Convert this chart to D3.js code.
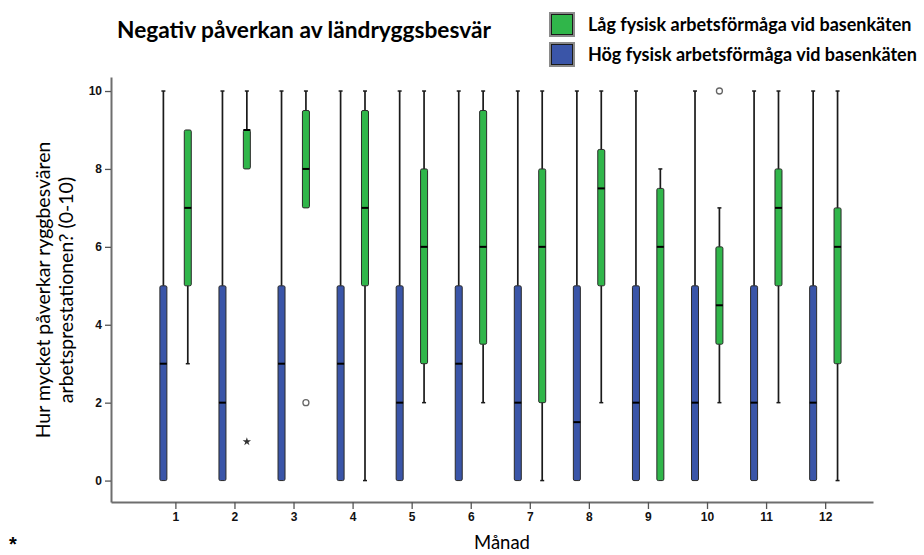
<!DOCTYPE html>
<html><head><meta charset="utf-8">
<script src="https://cdn.jsdelivr.net/npm/d3@7"></script>
<style>body{margin:0;background:#fff}svg{display:block}</style>
</head><body>
<svg id="chart" width="924" height="555"></svg>
<script>
const months = [1,2,3,4,5,6,7,8,9,10,11,12];
const yTicks = [0,2,4,6,8,10];
const seriesNames = ["Låg fysisk arbetsförmåga vid basenkäten","Hög fysisk arbetsförmåga vid basenkäten"];
// Låg (green)
const lowMin = [3,8,7,0,2,2,0,2,0,2,2,0];
const lowQ1  = [5,8,7,5,3,3.5,2,5,0,3.5,5,3];
const lowMed = [7,9,8,7,6,6,6,7.5,6,4.5,7,6];
const lowQ3  = [9,9,9.5,9.5,8,9.5,8,8.5,7.5,6,8,7];
const lowMax = [9,10,10,10,10,10,10,10,8,7,10,10];
// Hög (blue)
const highMin = [0,0,0,0,0,0,0,0,0,0,0,0];
const highQ1  = [0,0,0,0,0,0,0,0,0,0,0,0];
const highMed = [3,2,3,3,2,3,2,1.5,2,2,2,2];
const highQ3  = [5,5,5,5,5,5,5,5,5,5,5,5];
const highMax = [10,10,10,10,10,10,10,10,10,10,10,10];
// outliers (Låg group)
const lowOutlierMonths = [2,3,10];
const lowOutlierValues = [1,2,10];
const lowOutlierTypes  = ["extreme","mild","mild"];

const colors = {low:"#30b64a", high:"#3a55a8"};
const svg = d3.select("#chart");
const x = d3.scaleLinear().domain([-0.09,12.81]).range([111,873]);
const y = d3.scaleLinear().domain([-0.55,10.36]).range([502,77]);

// axes
const yAxis = svg.append("g").attr("transform","translate(111,0)")
  .call(d3.axisLeft(y).tickValues(yTicks).tickSize(6).tickSizeOuter(0).tickFormat(d3.format("d")));
const xAxis = svg.append("g").attr("transform","translate(0,502)")
  .call(d3.axisBottom(x).tickValues(months).tickSize(7).tickSizeOuter(0).tickFormat(d3.format("d")));
[yAxis,xAxis].forEach(g=>{
  g.select(".domain").attr("stroke","#6e6e6e").attr("stroke-width",2);
  g.selectAll(".tick line").attr("stroke","#555").attr("stroke-width",1.3);
  g.selectAll(".tick text").attr("fill","#111").attr("font-family","Liberation Sans, Arial, sans-serif")
    .attr("font-weight","bold").attr("font-size",12);
});
xAxis.selectAll(".tick text").attr("dy","0.75em");

function series(mins,q1s,meds,q3s,maxs,offset,color){
  const g = svg.append("g");
  const bw = 7;
  months.forEach((m,i)=>{
    const cx = x(m)+offset;
    if (maxs[i] > q3s[i]) {
      g.append("line").attr("x1",cx).attr("x2",cx).attr("y1",y(q3s[i])).attr("y2",y(maxs[i]))
        .attr("stroke","#1a1a1a").attr("stroke-width",1.7);
      g.append("line").attr("x1",cx-2).attr("x2",cx+2).attr("y1",y(maxs[i])).attr("y2",y(maxs[i]))
        .attr("stroke","#1a1a1a").attr("stroke-width",1.5);
    }
    if (mins[i] < q1s[i]) {
      g.append("line").attr("x1",cx).attr("x2",cx).attr("y1",y(q1s[i])).attr("y2",y(mins[i]))
        .attr("stroke","#1a1a1a").attr("stroke-width",1.7);
      g.append("line").attr("x1",cx-2).attr("x2",cx+2).attr("y1",y(mins[i])).attr("y2",y(mins[i]))
        .attr("stroke","#1a1a1a").attr("stroke-width",1.5);
    }
    g.append("rect").attr("x",cx-bw/2).attr("width",bw)
      .attr("y",y(q3s[i])).attr("height",y(q1s[i])-y(q3s[i]))
      .attr("rx",1.5).attr("fill",color).attr("stroke","#2a2a2a").attr("stroke-width",1);
    g.append("line").attr("x1",cx-bw/2).attr("x2",cx+bw/2).attr("y1",y(meds[i])).attr("y2",y(meds[i]))
      .attr("stroke","#000").attr("stroke-width",2);
  });
}
series(highMin,highQ1,highMed,highQ3,highMax,-12,colors.high);
series(lowMin,lowQ1,lowMed,lowQ3,lowMax,12.4,colors.low);

// outliers
lowOutlierMonths.forEach((m,i)=>{
  const cx = x(m)+12.4, cy = y(lowOutlierValues[i]);
  if (lowOutlierTypes[i]==="mild") {
    svg.append("circle").attr("cx",cx).attr("cy",cy).attr("r",3)
      .attr("fill","none").attr("stroke","#666").attr("stroke-width",1.3);
  } else {
    svg.append("path").attr("d",d3.symbol(d3.symbolStar,22)()).attr("transform",`translate(${cx},${cy})`)
      .attr("fill","#333");
  }
});

// titles
svg.append("text").attr("x",117).attr("y",38).attr("font-family","Lato, sans-serif")
  .attr("font-weight","bold").attr("font-size",22.7).attr("fill","#000")
  .text("Negativ påverkan av ländryggsbesvär");

svg.append("text").attr("x",502).attr("y",549).attr("text-anchor","middle")
  .attr("font-family","Lato, sans-serif").attr("font-size",18.5).attr("fill","#000").text("Månad");

const yt = svg.append("text").attr("transform","translate(54,290) rotate(-90)")
  .attr("text-anchor","middle").attr("font-family","Lato, sans-serif").attr("font-size",19.5).attr("fill","#000");
yt.append("tspan").attr("x",0).attr("y",-4).text("Hur mycket påverkar ryggbesvären");
yt.append("tspan").attr("x",0).attr("y",19).text("arbetsprestationen? (0-10)");

svg.append("text").attr("x",9).attr("y",551).attr("font-family","Liberation Sans, Arial, sans-serif")
  .attr("font-weight","bold").attr("font-size",20).text("*");

// legend
const legColors = [colors.low, colors.high];
seriesNames.forEach((n,i)=>{
  const ly = 12 + i*30;
  svg.append("rect").attr("x",549).attr("y",ly).attr("width",26).attr("height",25)
    .attr("fill","#8a8a8a");
  svg.append("rect").attr("x",551.5).attr("y",ly+2.5).attr("width",21).attr("height",20)
    .attr("fill",legColors[i]).attr("stroke","#1a1a1a").attr("stroke-width",1);
  svg.append("text").attr("x",588).attr("y",ly+19).attr("font-family","Lato, sans-serif")
    .attr("font-weight","bold").attr("font-size",18).attr("fill","#000").text(n);
});
</script>
</body></html>
